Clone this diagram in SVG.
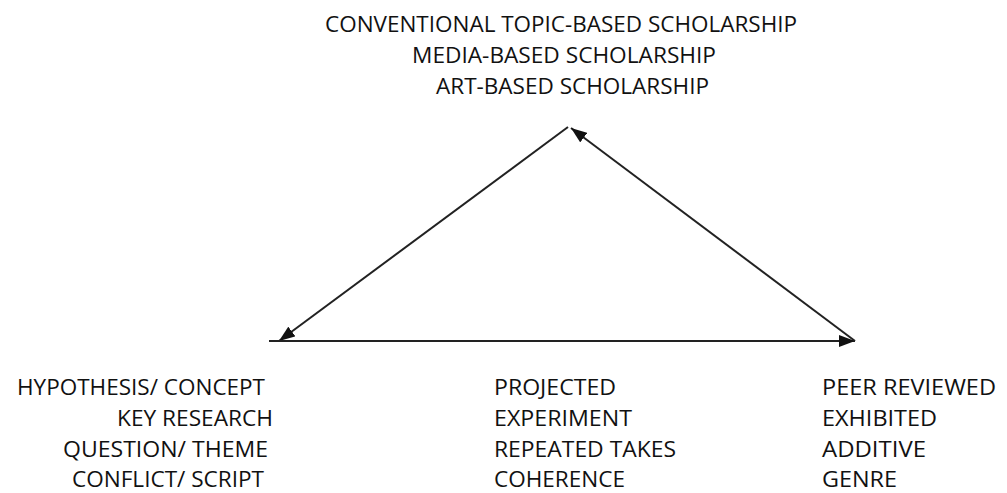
<svg xmlns="http://www.w3.org/2000/svg" width="1007" height="493" viewBox="0 0 1007 493">
  <style>
    .t { font-family: "Open Sans", "Liberation Sans", sans-serif; font-size: 22px; fill: #111; }
    .c { stroke: #222; stroke-width: 2; fill: none; }
  </style>
  <defs>
    <marker id="ah" viewBox="0 0 16 12" refX="16" refY="6" markerWidth="16" markerHeight="12" markerUnits="userSpaceOnUse" orient="auto">
      <path d="M0,0 L16,6 L0,12 Z" fill="#111"/>
    </marker>
  </defs>
  <rect width="1007" height="493" fill="#fff"/>

  <g id="connectors">
    <line class="c" x1="568" y1="127" x2="279" y2="341" marker-end="url(#ah)"/>
    <line class="c" x1="269" y1="341" x2="855" y2="341" marker-end="url(#ah)"/>
    <line class="c" x1="855" y1="341" x2="571" y2="128" marker-end="url(#ah)"/>
  </g>

  <g id="node-top">
    <text class="t" x="325" y="32" textLength="472" lengthAdjust="spacingAndGlyphs">CONVENTIONAL TOPIC-BASED SCHOLARSHIP</text>
    <text class="t" x="412" y="63" textLength="304" lengthAdjust="spacingAndGlyphs">MEDIA-BASED SCHOLARSHIP</text>
    <text class="t" x="436" y="94" textLength="273" lengthAdjust="spacingAndGlyphs">ART-BASED SCHOLARSHIP</text>
  </g>

  <g id="node-left">
    <text class="t" x="17" y="395" textLength="248" lengthAdjust="spacingAndGlyphs">HYPOTHESIS/ CONCEPT</text>
    <text class="t" x="117" y="426" textLength="156" lengthAdjust="spacingAndGlyphs">KEY RESEARCH</text>
    <text class="t" x="63" y="457" textLength="205" lengthAdjust="spacingAndGlyphs">QUESTION/ THEME</text>
    <text class="t" x="72" y="487" textLength="192" lengthAdjust="spacingAndGlyphs">CONFLICT/ SCRIPT</text>
  </g>

  <g id="node-middle">
    <text class="t" x="494" y="395" textLength="122" lengthAdjust="spacingAndGlyphs">PROJECTED</text>
    <text class="t" x="494" y="426" textLength="138" lengthAdjust="spacingAndGlyphs">EXPERIMENT</text>
    <text class="t" x="494" y="457" textLength="182" lengthAdjust="spacingAndGlyphs">REPEATED TAKES</text>
    <text class="t" x="494" y="487" textLength="131" lengthAdjust="spacingAndGlyphs">COHERENCE</text>
  </g>

  <g id="node-right">
    <text class="t" x="822" y="395" textLength="174" lengthAdjust="spacingAndGlyphs">PEER REVIEWED</text>
    <text class="t" x="822" y="426" textLength="115" lengthAdjust="spacingAndGlyphs">EXHIBITED</text>
    <text class="t" x="822" y="457" textLength="104" lengthAdjust="spacingAndGlyphs">ADDITIVE</text>
    <text class="t" x="822" y="487" textLength="75" lengthAdjust="spacingAndGlyphs">GENRE</text>
  </g>
</svg>
